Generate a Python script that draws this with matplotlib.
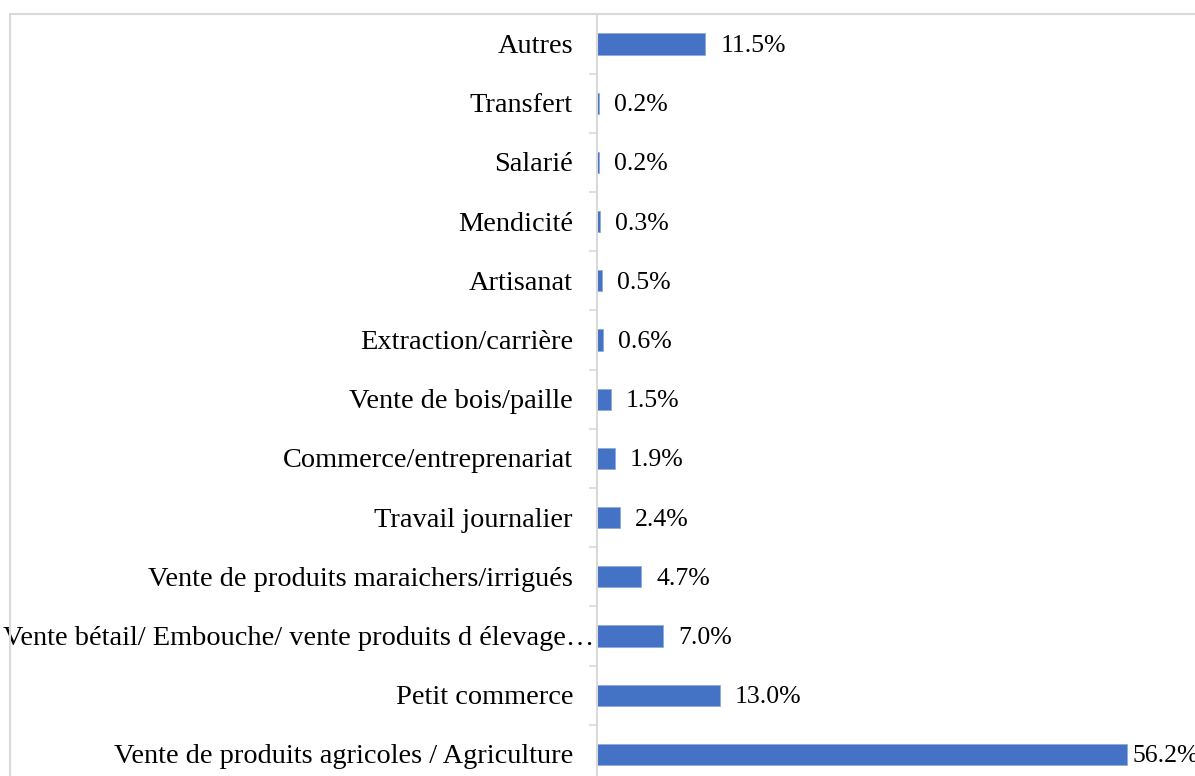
import matplotlib.pyplot as plt
from matplotlib.patches import Rectangle

# Sources de revenus des ménages (%), du bas vers le haut
categories = [
    "Vente de produits agricoles / Agriculture",
    "Petit commerce",
    "Vente bétail/ Embouche/ vente produits d élevage\u2026",
    "Vente de produits maraichers/irrigués",
    "Travail journalier",
    "Commerce/entreprenariat",
    "Vente de bois/paille",
    "Extraction/carrière",
    "Artisanat",
    "Mendicité",
    "Salarié",
    "Transfert",
    "Autres",
]
values = [56.2, 13.0, 7.0, 4.7, 2.4, 1.9, 1.5, 0.6, 0.5, 0.3, 0.2, 0.2, 11.5]

plt.rcParams["font.family"] = ["Liberation Serif", "DejaVu Serif"]

fig = plt.figure(figsize=(11.95, 7.76), dpi=100)

# cadre gris du graphique
fig.patches.append(Rectangle((9.5 / 1195, -0.05), 1.2, (776 - 14) / 776 + 0.05,
                             transform=fig.transFigure, fill=False,
                             edgecolor="#d9d9d9", linewidth=1.5, zorder=0))

ax = fig.add_axes([597 / 1195, -8 / 776, 566 / 1195, 769.6 / 776])
ypos = list(range(len(categories)))
ax.barh(ypos, values, height=0.36, color="#4472C4", edgecolor="#8eaadb",
        linewidth=0.6)
ax.set_xlim(0, 60)
ax.set_ylim(-0.5, len(categories) - 0.5)

# étiquettes de valeur
for y, v in zip(ypos, values):
    pad = 5 if v > 50 else 15
    ax.annotate(f"{v:.1f}%", (v, y), xytext=(pad * 0.72, -1.5),
                textcoords="offset points", va="center", ha="left",
                fontsize=18.5, color="black", annotation_clip=False)

# libellés des catégories (le libellé tronqué déborde sur l'axe)
for y, c in zip(ypos, categories):
    dx = -3 if c.endswith("\u2026") else -24
    ax.annotate(c, (0, y), xytext=(dx * 0.72, -2.5 * 0.72),
                textcoords="offset points", va="center", ha="right",
                fontsize=20.4, color="black", annotation_clip=False)

ax.set_yticks([])
ax.set_yticks([y + 0.5 for y in ypos[:-1]], minor=True)
ax.tick_params(axis="y", which="minor", length=6, width=1.2, color="#d9d9d9",
               direction="out", labelleft=False)
ax.set_xticks([])
for s in ["top", "right", "bottom"]:
    ax.spines[s].set_visible(False)
ax.spines["left"].set_color("#d9d9d9")
ax.spines["left"].set_linewidth(1.5)

fig.savefig("out.png", dpi=100)
